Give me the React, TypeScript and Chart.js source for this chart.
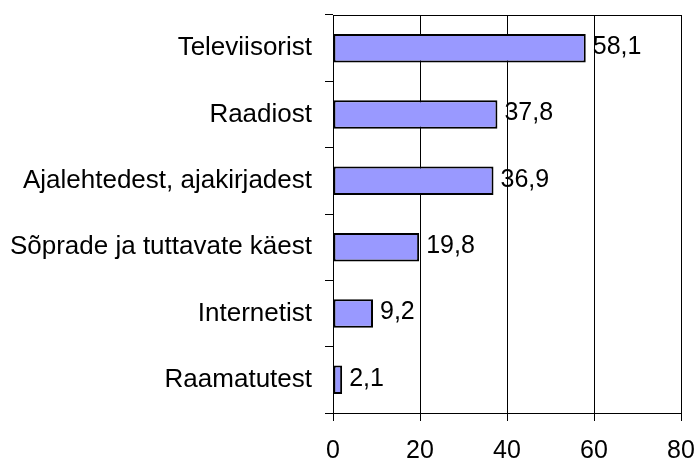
import React, { useEffect, useRef } from "react";
import { Chart, registerables } from "chart.js";

Chart.register(...registerables);

const categories = [
  "Televiisorist",
  "Raadiost",
  "Ajalehtedest, ajakirjadest",
  "Sõprade ja tuttavate käest",
  "Internetist",
  "Raamatutest",
];
const values = [58.1, 37.8, 36.9, 19.8, 9.2, 2.1];
const xMin = 0;
const xMax = 80;
const xStep = 20;

const FONT = "'Liberation Sans', Arial, Helvetica, sans-serif";
const FONT_SIZE = 25;
const LABEL_FONT_SIZE = 26;

const frameAndLabels = {
  id: "frameAndLabels",
  afterDatasetsDraw(chart: any) {
    const { ctx, chartArea } = chart;
    ctx.save();
    ctx.strokeStyle = "#000";
    ctx.lineWidth = 1;
    ctx.strokeRect(
      Math.round(chartArea.left) + 0.5,
      Math.round(chartArea.top) + 0.5,
      Math.round(chartArea.right - chartArea.left),
      Math.round(chartArea.bottom - chartArea.top)
    );
    const meta = chart.getDatasetMeta(0);
    ctx.fillStyle = "#000";
    ctx.font = `${FONT_SIZE}px ${FONT}`;
    ctx.textBaseline = "middle";
    ctx.textAlign = "left";
    meta.data.forEach((bar: any, i: number) => {
      const v = chart.data.datasets[0].data[i] as number;
      ctx.fillText(v.toFixed(1).replace(".", ","), bar.x + 7, bar.y - 1);
    });
    ctx.restore();
  },
};

export default function App() {
  const ref = useRef<HTMLCanvasElement>(null);
  useEffect(() => {
    document.body.style.margin = "0";
    const chart = new Chart(ref.current!, {
      type: "bar",
      data: {
        labels: categories,
        datasets: [
          {
            data: values,
            backgroundColor: "#9999FF",
            borderColor: "#000",
            borderWidth: 2,
            borderSkipped: false,
            barPercentage: 0.43,
            categoryPercentage: 1,
          },
        ],
      },
      options: {
        indexAxis: "y",
        animation: false,
        responsive: false,
        maintainAspectRatio: false,
        layout: { padding: { top: 15, right: 15, bottom: 0, left: 0 } },
        plugins: { legend: { display: false }, tooltip: { enabled: false } },
        scales: {
          x: {
            min: xMin,
            max: xMax,
            afterFit: (scale: any) => {
              scale.height = 46;
              scale.paddingLeft = 0;
              scale.paddingRight = 0;
            },
            ticks: {
              stepSize: xStep,
              color: "#000",
              font: { family: FONT, size: FONT_SIZE },
              padding: 15,
            },
            grid: {
              color: "#000",
              lineWidth: 1,
              tickLength: 8,
              drawTicks: true,
            },
            border: { display: true, color: "#000", width: 1 },
          },
          y: {
            afterFit: (scale: any) => {
              scale.width = 333;
              scale.paddingTop = 0;
              scale.paddingBottom = 0;
            },
            ticks: {
              color: "#000",
              font: { family: FONT, size: LABEL_FONT_SIZE },
              padding: 13,
            },
            grid: {
              offset: true,
              drawOnChartArea: false,
              drawTicks: true,
              tickLength: 8,
              color: "#000",
            },
            border: { display: true, color: "#000", width: 1 },
          },
        },
      },
      plugins: [frameAndLabels],
    });
    return () => chart.destroy();
  }, []);
  return (
    <div style={{ width: 696, height: 459, background: "#fff" }}>
      <canvas ref={ref} width={696} height={459} />
    </div>
  );
}
